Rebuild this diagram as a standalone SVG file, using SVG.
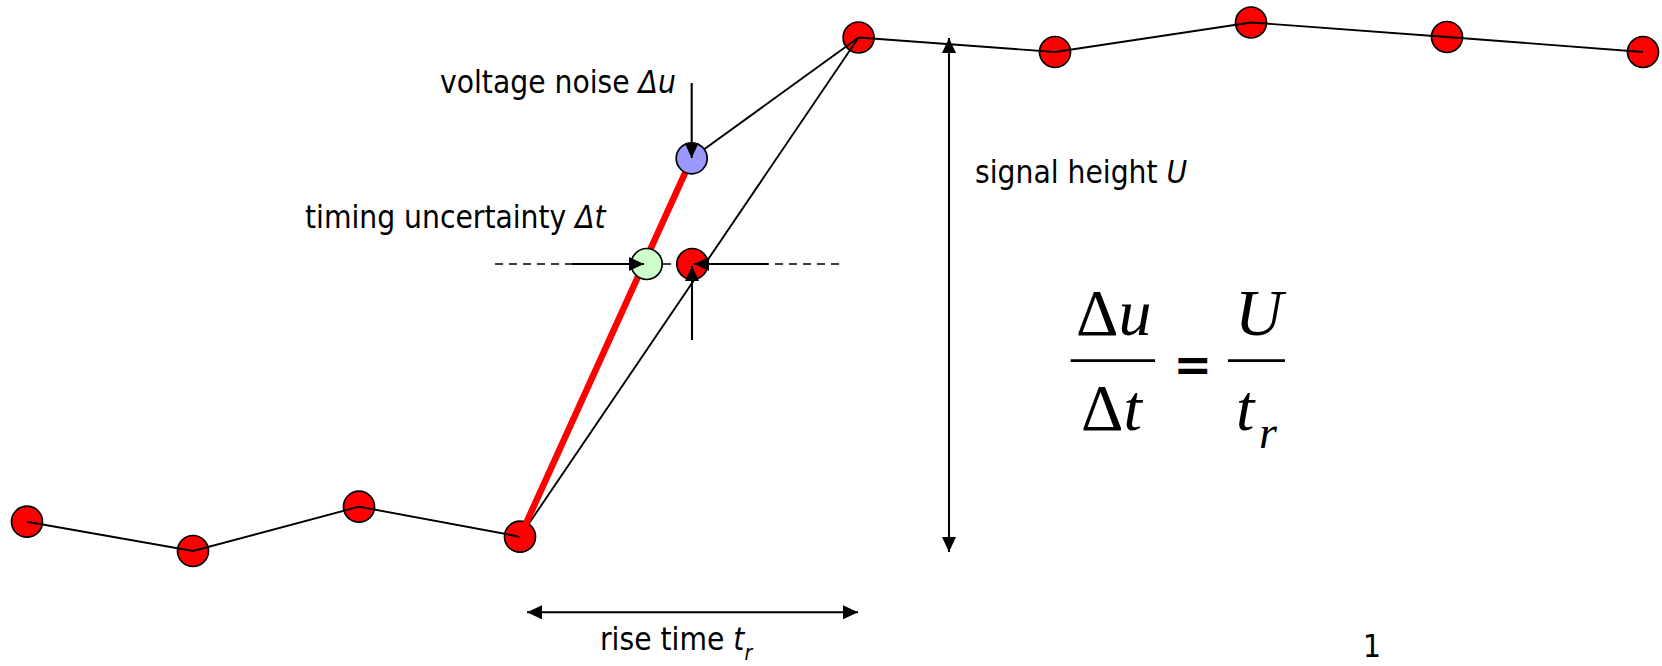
<svg xmlns="http://www.w3.org/2000/svg" width="1662" height="666" viewBox="0 0 1662 666">
<style>
.lbl{font-family:"DejaVu Sans Condensed","DejaVu Sans",sans-serif;font-size:31.4px;fill:#000}
.it{font-style:italic}
.m{font-family:"Liberation Serif","Times New Roman",serif;fill:#000}
.pt{stroke:#000;stroke-width:1.7}
.red{fill:#FF0000}
.ln{stroke:#000;stroke-width:1.9;fill:none}
.ar{stroke:#000;stroke-width:2.1;fill:none}
</style>
<defs>
<marker id="ah" viewBox="0 0 15 14" refX="15" refY="7" markerWidth="15" markerHeight="14" markerUnits="userSpaceOnUse" orient="auto-start-reverse"><path d="M0,0 L15,7 L0,14 z" fill="#000"/></marker>
</defs>
<g id="samples-low">
<circle class="pt red" cx="27" cy="521.7" r="15.5"/>
<circle class="pt red" cx="193" cy="551" r="15.5"/>
<circle class="pt red" cx="359" cy="506.7" r="15.5"/>
<circle class="pt red" cx="520" cy="536.7" r="15.5"/>
</g>
<g id="samples-high">
<circle class="pt red" cx="858.6" cy="37.5" r="15.5"/>
<circle class="pt red" cx="1055" cy="52" r="15.5"/>
<circle class="pt red" cx="1251" cy="22.5" r="15.5"/>
<circle class="pt red" cx="1447" cy="37" r="15.5"/>
<circle class="pt red" cx="1643" cy="52" r="15.5"/>
</g>
<g id="connectors">
<line x1="495" y1="264" x2="840" y2="264" stroke="#000" stroke-width="1.5" stroke-dasharray="8 6"/>
<polyline class="ln" points="27,521.7 193,551 359,506.7 520,536.7"/>
<polyline class="ln" points="858.6,37.5 1055,52 1251,22.5 1447,37 1643,52"/>
<line class="ln" x1="520" y1="536.7" x2="858.6" y2="37.5"/>
<line class="ln" x1="691.7" y1="158.3" x2="858.6" y2="37.5"/>
<line x1="520" y1="536.7" x2="691.7" y2="158.3" stroke="#FF0000" stroke-width="6.5"/>
</g>
<g id="noisy-sample"><circle class="pt" cx="691.7" cy="158.3" r="15.5" fill="#9999FF"/></g>
<g id="shifted-sample"><circle class="pt" cx="646.7" cy="264" r="15.5" fill="#CCFFCC"/></g>
<g id="threshold-sample"><circle class="pt red" cx="692.3" cy="264" r="15.5"/></g>
<g id="arrows">
<line class="ar" x1="691.7" y1="83" x2="691.7" y2="158" marker-end="url(#ah)"/>
<line class="ar" x1="572" y1="264" x2="644" y2="264" marker-end="url(#ah)"/>
<line class="ar" x1="768" y1="264" x2="694" y2="264" marker-end="url(#ah)"/>
<line class="ar" x1="692" y1="340" x2="692" y2="266" marker-end="url(#ah)"/>
<line class="ar" x1="949" y1="38" x2="949" y2="552" marker-start="url(#ah)" marker-end="url(#ah)"/>
<line class="ar" x1="527" y1="612.3" x2="858" y2="612.3" marker-start="url(#ah)" marker-end="url(#ah)"/>
</g>
<g id="labels">
<text class="lbl" x="440" y="93">voltage noise <tspan class="it">Δu</tspan></text>
<text class="lbl" x="305" y="228">timing uncertainty <tspan class="it">Δt</tspan></text>
<text class="lbl" x="975" y="183">signal height <tspan class="it">U</tspan></text>
<text class="lbl" x="600" y="650">rise time <tspan class="it">t</tspan><tspan class="it" font-size="21" dy="10">r</tspan></text>
<text class="lbl" x="1372" y="657" text-anchor="middle" font-size="30">1</text>
</g>
<g id="formula">
<text class="m" x="1076" y="335" font-size="66">Δ<tspan font-style="italic">u</tspan></text>
<line x1="1070.7" y1="360.7" x2="1155" y2="360.7" stroke="#000" stroke-width="2.7"/>
<text class="m" x="1081" y="430" font-size="66">Δ<tspan font-style="italic">t</tspan></text>
<text x="1173.5" y="380.5" font-family="DejaVu Sans,sans-serif" font-weight="bold" font-size="46">=</text>
<text class="m" x="1235" y="335" font-size="66" font-style="italic">U</text>
<line x1="1228" y1="360.7" x2="1285" y2="360.7" stroke="#000" stroke-width="2.7"/>
<text class="m" x="1236" y="430" font-size="66" font-style="italic">t</text>
<text class="m" x="1259" y="448" font-size="46" font-style="italic">r</text>
</g>
</svg>
